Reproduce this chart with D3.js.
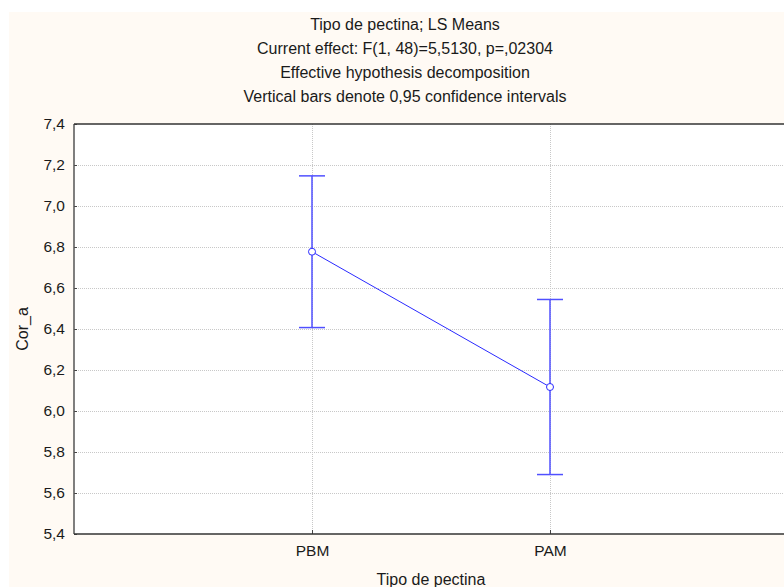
<!DOCTYPE html>
<html>
<head>
<meta charset="utf-8">
<script src="https://cdn.jsdelivr.net/npm/d3@7"></script>
<style>
  html, body { margin: 0; padding: 0; background: #ffffff; overflow: hidden; }
  svg { display: block; }
  svg text { font-family: "Liberation Sans", Arial, sans-serif; fill: #1a1a1a; }
</style>
</head>
<body>
<svg id="chart" width="784" height="587"></svg>
<script>
// LS means of Cor_a by pectin type, with 95% confidence limits
const categories = ["PBM", "PAM"];
const means = [6.777, 6.117];
const lower = [6.407, 5.690];
const upper = [7.147, 6.544];
const yTicks = [5.4, 5.6, 5.8, 6.0, 6.2, 6.4, 6.6, 6.8, 7.0, 7.2, 7.4];
const titleLines = [
  "Tipo de pectina; LS Means",
  "Current effect: F(1, 48)=5,5130, p=,02304",
  "Effective hypothesis decomposition",
  "Vertical bars denote 0,95 confidence intervals"
];
const xTitle = "Tipo de pectina";
const yTitle = "Cor_a";

const svg = d3.select("#chart");
const W = 784, H = 587;
// the plot frame runs a little past the right edge of the page
const margin = { left: 74, top: 124, right: -4, bottom: 53 };
const innerW = W - margin.left - margin.right;
const innerH = H - margin.top - margin.bottom;
const visibleW = W - margin.left;
const blue = "#2a2aff";

// white outer margin and cream panel
svg.append("rect").attr("width", W).attr("height", H).attr("fill", "#ffffff");
svg.append("rect").attr("x", 9).attr("y", 12).attr("width", W - 9).attr("height", H - 12)
  .attr("fill", "#fffaf4");

// titles
const tg = svg.append("g");
titleLines.forEach((t, i) => {
  tg.append("text").attr("x", 405).attr("y", 30 + i * 24)
    .attr("text-anchor", "middle").attr("font-size", 16).text(t);
});

const g = svg.append("g").attr("transform", `translate(${margin.left},${margin.top})`);

const x = d3.scalePoint().domain(categories).range([0, innerW]).padding(1);
const y = d3.scaleLinear().domain([5.4, 7.4]).range([innerH, 0]);

// plot background
g.append("rect").attr("width", visibleW).attr("height", innerH).attr("fill", "#ffffff");

// dotted grid
g.append("g").selectAll("line").data(yTicks.slice(1, -1)).join("line")
  .attr("x1", 0).attr("x2", visibleW).attr("y1", d => y(d)).attr("y2", d => y(d))
  .attr("stroke", "#c8c8c8").attr("stroke-dasharray", "1,1").attr("shape-rendering", "crispEdges");
g.append("g").selectAll("line").data(categories).join("line")
  .attr("x1", d => x(d)).attr("x2", d => x(d)).attr("y1", 0).attr("y2", innerH)
  .attr("stroke", "#c8c8c8").attr("stroke-dasharray", "1,1").attr("shape-rendering", "crispEdges");

// y axis
const yAxis = g.append("g").call(
  d3.axisLeft(y).tickValues(yTicks).tickSize(-3).tickPadding(9)
    .tickFormat(d => d3.format(".1f")(d).replace(".", ","))
);
yAxis.select(".domain").remove();
yAxis.selectAll(".tick line").attr("stroke", "#444");
yAxis.selectAll("text").attr("font-size", 15.5).attr("fill", "#1a1a1a").attr("font-family", "Liberation Sans, Arial, sans-serif");

// x axis
const xAxis = g.append("g").attr("transform", `translate(0,${innerH})`).call(
  d3.axisBottom(x).tickSize(-4).tickPadding(11)
);
xAxis.select(".domain").remove();
xAxis.selectAll(".tick line").attr("stroke", "#444");
xAxis.selectAll("text").attr("font-size", 15.5).attr("fill", "#1a1a1a").attr("font-family", "Liberation Sans, Arial, sans-serif");

// frame
g.append("line").attr("x1", 0).attr("x2", 0).attr("y1", 0).attr("y2", innerH)
  .attr("stroke", "#555").attr("stroke-width", 1.5);
g.append("line").attr("x1", 0).attr("x2", visibleW).attr("y1", 0).attr("y2", 0)
  .attr("stroke", "#333").attr("stroke-width", 1.5);
g.append("line").attr("x1", 0).attr("x2", visibleW).attr("y1", innerH).attr("y2", innerH)
  .attr("stroke", "#333").attr("stroke-width", 1.5);

// error bars
const eb = g.append("g").attr("stroke", "#5050ff").attr("stroke-width", 1.5);
categories.forEach((c, i) => {
  eb.append("line").attr("x1", x(c)).attr("x2", x(c)).attr("y1", y(lower[i])).attr("y2", y(upper[i]));
  eb.append("line").attr("x1", x(c) - 13).attr("x2", x(c) + 13).attr("y1", y(lower[i])).attr("y2", y(lower[i]));
  eb.append("line").attr("x1", x(c) - 13).attr("x2", x(c) + 13).attr("y1", y(upper[i])).attr("y2", y(upper[i]));
});

// mean line and markers
const pts = categories.map((c, i) => [x(c), y(means[i])]);
g.append("path").attr("d", d3.line()(pts)).attr("fill", "none").attr("stroke", blue).attr("stroke-width", 1);
g.append("g").selectAll("circle").data(pts).join("circle")
  .attr("cx", d => d[0]).attr("cy", d => d[1]).attr("r", 3.5)
  .attr("fill", "#ffffff").attr("stroke", blue).attr("stroke-width", 1);

// axis titles
svg.append("text").attr("x", margin.left + innerW / 2).attr("y", 585)
  .attr("text-anchor", "middle").attr("font-size", 16).text(xTitle);
svg.append("text").attr("transform", `translate(28,${margin.top + innerH / 2}) rotate(-90)`)
  .attr("text-anchor", "middle").attr("font-size", 16).text(yTitle);
</script>
</body>
</html>
